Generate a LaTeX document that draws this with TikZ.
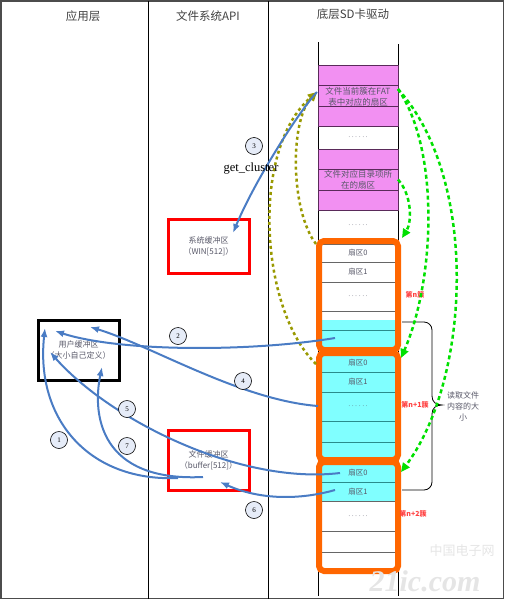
\documentclass[tikz,border=0pt]{standalone}
\usepackage{fontspec}
\setmainfont{Liberation Serif}
\newfontfamily\cjk{Noto Sans CJK SC}
\usetikzlibrary{arrows.meta}
\definecolor{mag}{HTML}{F290F2}
\definecolor{magline}{HTML}{5A2A5A}
\definecolor{cy}{HTML}{80FFFF}
\definecolor{cyline}{HTML}{2A8C8C}
\definecolor{org}{HTML}{FF6600}
\definecolor{blu}{HTML}{4A7CC4}
\definecolor{olv}{HTML}{999900}
\definecolor{grn}{HTML}{00E000}
\definecolor{txt}{HTML}{585868}
\definecolor{lbl}{HTML}{FF4040}
\definecolor{circ}{HTML}{E6ECF8}
\begin{document}
\begin{tikzpicture}[x=1pt,y=-1pt,
  hdr/.style={font=\cjk\fontsize{11.5}{13}\selectfont, text=black!75, inner sep=0},
  row/.style={anchor=north west, minimum width=80, inner sep=0, outer sep=0,
              font=\cjk\fontsize{7.5}{9}\selectfont, text=txt},
  mrow/.style={row, draw=magline, fill=mag, line width=0.8},
  wrow/.style={row, draw=black!60, fill=white, line width=0.8},
  crow/.style={row, draw=cyline, fill=cy, line width=0.8},
  dots/.style={font=\fontsize{6}{6}\selectfont},
  clus/.style={draw=org, line width=6, rounded corners=5, minimum width=79, inner sep=0},
  buf/.style={draw=red, line width=3, minimum width=81, inner sep=0,
              align=center, font=\cjk\fontsize{8}{11}\selectfont, text=txt},
  ubuf/.style={buf, draw=black},
  intext/.style={align=center, inner sep=0, font=\cjk\fontsize{8.5}{11}\selectfont, text=txt},
  num/.style={circle, draw=black, line width=0.6, fill=circ, minimum size=17, inner sep=0,
              font=\fontsize{7}{8}\selectfont},
  clabel/.style={font=\cjk\bfseries\fontsize{7}{8}\selectfont, text=lbl, inner sep=0},
  barrow/.style={draw=blu, line width=2, -{Latex[length=9,width=7]}},
  oarrow/.style={draw=olv, line width=2.5, dash pattern=on 3pt off 3pt, -{Triangle[length=9,width=8]}},
  garrow/.style={draw=grn, line width=2.5, dash pattern=on 4pt off 3pt, -{Triangle[length=9,width=8]}}
]
\useasboundingbox (0,0) rectangle (505,600);
% frame and columns
\draw[line width=1.5, black!70] (0.75,1) rectangle (503.5,598.5);
\draw[line width=1] (148,1) -- (148,598.5);
\draw[line width=1] (268,1) -- (268,598.5);
\node[hdr] (h1) at (83,16) {应用层};
\node[hdr] (h2) at (208,16) {文件系统API};
\node[hdr] (h3) at (353,14) {底层SD卡驱动};
% SD column
\draw[line width=0.9] (318,42) -- (318,596);
\draw[line width=0.9] (398,44) -- (398,596);
% sectors upper
\node[mrow,minimum height=20] (m1) at (318,65) {};
\node[mrow,minimum height=21] (fat) at (318,85) {};
\node[intext] (fattxt) at (358,96.5) {文件当前簇在FAT\\表中对应的扇区};
\node[mrow,minimum height=20] (m3) at (318,106) {};
\node[row,minimum height=23,dots] (d1) at (318,126) {. . . . . .};
\node[mrow,minimum height=20] (m4) at (318,149) {};
\node[mrow,minimum height=21] (dir) at (318,169) {};
\node[intext] (dirtxt) at (358,180) {文件对应目录项所\\在的扇区};
\node[mrow,minimum height=20] (m6) at (318,190) {};
\node[row,minimum height=30,dots] (d2) at (318,210) {. . . . . .};
% cluster n
\node[wrow,minimum height=18] (n0) at (318,244) {扇区0};
\node[wrow,minimum height=20] (n1) at (318,262) {扇区1};
\node[wrow,minimum height=29,dots] (nd) at (318,282) {. . . . . .};
\node[wrow,minimum height=19] (n3) at (318,311) {};
\fill[cy] (318.4,320) rectangle (397.6,330);
\node[crow,minimum height=20] (n4) at (318,330) {};
% cluster n+1
\node[crow,minimum height=18] (p0) at (318,354) {扇区0};
\node[crow,minimum height=20] (p1) at (318,372) {扇区1};
\node[crow,minimum height=29,dots] (pd) at (318,392) {. . . . . .};
\node[crow,minimum height=21] (p3) at (318,421) {};
\node[crow,minimum height=19] (p4) at (318,442) {};
% cluster n+2
\node[crow,minimum height=18] (q0) at (318,464) {扇区0};
\node[crow,minimum height=19] (q1) at (318,482) {扇区1};
\node[wrow,minimum height=30,dots] (qd) at (318,501) {. . . . . .};
\node[wrow,minimum height=21] (q3) at (318,531) {};
\node[wrow,minimum height=19] (q4) at (318,552) {};
% cluster frames
\node[clus,minimum height=109] (cn) at (358.5,295.5) {};
\node[clus,minimum height=107] (cn1) at (358.5,406.5) {};
\node[clus,minimum height=109] (cn2) at (358.5,516.5) {};
\node[clabel] (ln) at (415,295) {第n簇};
\node[clabel] (ln1) at (415,405) {第n+1簇};
\node[clabel] (ln2) at (413,514) {第n+2簇};
% brace
\draw[line width=0.8, rounded corners=8] (402,322) -- (432,322) -- (432,396);
\draw[line width=0.8] (432,396) .. controls (432,402) and (436,405) .. (442,405)
   .. controls (436,405) and (432,408) .. (432,414);
\draw[line width=0.8, rounded corners=8] (432,414) -- (432,490) -- (402,490);
\node[intext, font=\cjk\fontsize{8}{11}\selectfont] (readtxt) at (463,406) {读取文件\\内容的大\\小};
% buffers
\node[buf, minimum height=54] (sysbuf) at (208.5,246) {系统缓冲区\\（WIN[512]）};
\node[buf, minimum height=60] (filebuf) at (208.5,460) {文件缓冲区\\（buffer[512]）};
\node[ubuf, minimum height=60] (ubuf) at (78.5,350) {用户缓冲区\\（大小自己定义）};
% coordinates
\coordinate (fatL) at (317,92);
\coordinate (fatR) at (398,89);
\coordinate (sysin) at (233,233);
\coordinate (nTL) at (316,244);
\coordinate (pL) at (316,364);
\coordinate (nTR) at (402,238);
\coordinate (pTR) at (401,358);
\coordinate (qTR) at (401,472);
\coordinate (nc) at (335,338);
\coordinate (pw) at (318,406);
\coordinate (q0c) at (340,473);
\coordinate (q1c) at (335,490);
\coordinate (fb1) at (178,478);
\coordinate (fb7) at (203,477);
\coordinate (fbin) at (220,482);
\coordinate (u1) at (45,328);
\coordinate (u2) at (55,331);
\coordinate (u4) at (90,327);
\coordinate (u5) at (50,352);
\coordinate (u7) at (102,367);
% olive dashed
\draw[oarrow] (nTL) .. controls (290,210) and (290,120) .. (fatL);
\draw[oarrow] (pL) .. controls (260,310) and (250,150) .. (fatL);
% green dashed
\draw[garrow] (dir.east) .. controls (412,195) and (412,222) .. (nTR);
\draw[garrow] (fatR) .. controls (440,150) and (435,280) .. (pTR);
\draw[garrow] (fatR) .. controls (480,180) and (470,380) .. (qTR);
% blue arrows
\draw[barrow] (fatL) .. controls (300,110) and (255,180) .. (sysin);
\draw[barrow] (nc) .. controls (250,352) and (120,352) .. (u2);
\draw[barrow] (pw) .. controls (240,400) and (150,345) .. (u4);
\draw[barrow] (q0c) .. controls (240,485) and (110,420) .. (u5);
\draw[barrow] (q1c) .. controls (300,500) and (260,500) .. (fbin);
\draw[barrow] (fb7) .. controls (100,482) and (92,415) .. (u7);
\draw[barrow] (fb1) .. controls (90,482) and (35,420) .. (u1);
% numbers
\node[num] (c1) at (59,440) {1};
\node[num] (c2) at (178,336) {2};
\node[num] (c3) at (254,146) {3};
\node[num] (c4) at (243,381) {4};
\node[num] (c5) at (127,409) {5};
\node[num] (c6) at (254,510) {6};
\node[num] (c7) at (127,446) {7};
\node[font=\fontsize{12.5}{14}\selectfont, inner sep=0] (gc) at (251,169) {get\_cluster};
% watermark
\node[font=\bfseries\itshape\fontsize{30}{32}\selectfont, text=black!10, inner sep=0] (wm1) at (425,581) {21ic.com};
\node[font=\cjk\fontsize{13}{15}\selectfont, text=black!10, inner sep=0] (wm2) at (462,551) {中国电子网};
\end{tikzpicture}
\end{document}
